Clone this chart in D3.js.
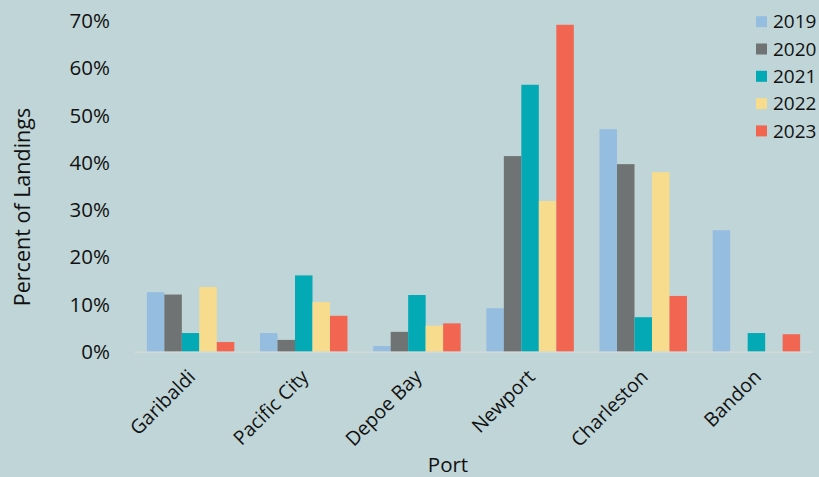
<!DOCTYPE html>
<html><head><meta charset="utf-8">
<script src="https://cdn.jsdelivr.net/npm/d3@7"></script>
<style>
html,body{margin:0;padding:0;background:#c0d5d7;}
text{font-family:"Open Sans",sans-serif;fill:#111;}
</style></head>
<body><svg id="c" width="819" height="477"></svg>
<script>
const ports = ["Garibaldi","Pacific City","Depoe Bay","Newport","Charleston","Bandon"];
const years = ["2019","2020","2021","2022","2023"];
const colors = ["#95bde0","#707373","#03a9b5","#f6dc8c","#f26651"];
const v2019 = [12.6, 3.95, 1.2, 9.2, 47.1, 25.7];
const v2020 = [12.1, 2.5, 4.2, 41.4, 39.7, 0];
const v2021 = [3.95, 16.15, 12.0, 56.5, 7.3, 3.95];
const v2022 = [13.7, 10.5, 5.5, 31.9, 38.0, 0];
const v2023 = [2.05, 7.6, 6.0, 69.2, 11.8, 3.7];
const yTicks = [0,10,20,30,40,50,60,70];
const series = [v2019,v2020,v2021,v2022,v2023];

const svg = d3.select("#c");
const x0 = d3.scaleBand().domain(ports).range([134,813]).padding(0);
const x1 = d3.scaleBand().domain(years).range([0,x0.bandwidth()]).paddingInner(0).paddingOuter(0.735);
const y = d3.scaleLinear().domain([0,70]).range([351.7,21]);

// y tick labels
svg.append("g").selectAll("text").data(yTicks).join("text")
  .attr("x",110).attr("y",d=>y(d)).attr("dy","0.35em")
  .attr("text-anchor","end").style("font-size","20.5px")
  .text(d=>d+"%");

// bars
const g = svg.append("g");
ports.forEach((p,i)=>{
  years.forEach((yr,j)=>{
    const val = series[j][i];
    if(val<=0) return;
    g.append("rect")
      .attr("x",x0(p)+x1(yr)).attr("width",x1.bandwidth())
      .attr("y",y(val)).attr("height",y(0)-y(val))
      .attr("fill",colors[j]);
  });
});

// axis line
svg.append("line").attr("x1",134).attr("x2",813).attr("y1",y(0)+0.5).attr("y2",y(0)+0.5)
  .attr("stroke","#d9d9d9").attr("stroke-width",1.2);

// x labels
svg.append("g").selectAll("text").data(ports).join("text")
  .attr("transform",d=>`translate(${x0(d)+x0.bandwidth()/2+6},${378}) rotate(-45)`)
  .attr("text-anchor","end").style("font-size","19.5px")
  .text(d=>d);

// axis titles
svg.append("text").attr("x",448).attr("y",472).attr("text-anchor","middle")
  .style("font-size","20.5px").text("Port");
svg.append("text").attr("transform","translate(30,207) rotate(-90)").attr("text-anchor","middle")
  .style("font-size","21.5px").text("Percent of Landings");

// legend
const lg = svg.append("g");
years.forEach((yr,j)=>{
  const cy = 21.7 + j*27.3;
  lg.append("rect").attr("x",756).attr("y",cy-5.5).attr("width",11).attr("height",11).attr("fill",colors[j]);
  lg.append("text").attr("x",773).attr("y",cy).attr("dy","0.35em").style("font-size","19px").text(yr);
});
</script></body></html>
